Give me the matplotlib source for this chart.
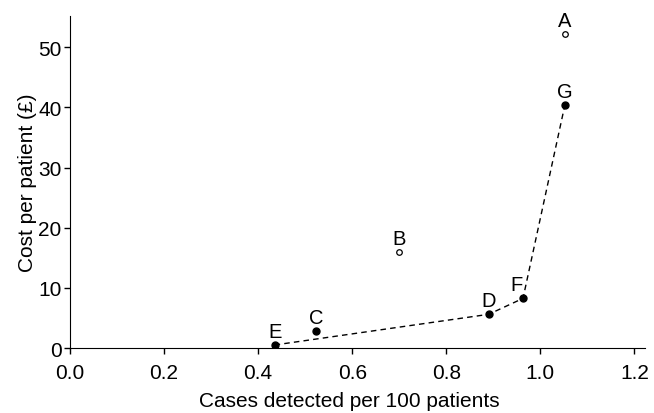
import matplotlib
matplotlib.use("Agg")
import matplotlib.pyplot as plt

plt.rcParams['font.family'] = ['Liberation Sans', 'DejaVu Sans']

# strategies on the frontier (filled) and dominated ones (open)
front_labels = ['E', 'C', 'D', 'F', 'G']
front_x = [0.435, 0.524, 0.890, 0.963, 1.052]
front_y = [0.5, 2.8, 5.6, 8.25, 40.4]

line_labels = ['E', 'D', 'F', 'G']
line_x = [0.435, 0.890, 0.963, 1.052]
line_y = [0.5, 5.6, 8.25, 40.4]

open_labels = ['B', 'A']
open_x = [0.700, 1.052]
open_y = [15.9, 52.2]

fig = plt.figure(figsize=(6.54, 4.14), dpi=100)
ax = fig.add_axes([0.107, 0.157, 0.879, 0.802])

ax.plot(line_x, line_y, color='black', linestyle='--', linewidth=1, dashes=(4, 3), zorder=2)
ax.plot(front_x, front_y, 'o', color='black', markersize=5, zorder=3)
ax.plot(open_x, open_y, 'o', markerfacecolor='white', markeredgecolor='black',
        markersize=4, markeredgewidth=0.9, zorder=3)

for lab, x, y in zip(front_labels + open_labels, front_x + open_x, front_y + open_y):
    if lab == 'F':
        off = (-4.5, 3.5)
    else:
        off = (0, 3)
    ax.annotate(lab, (x, y), xytext=off, textcoords='offset points',
                ha='center', va='bottom', fontsize=14.5)

ax.set_xlim(0, 1.222)
ax.set_ylim(0, 55.2)
ax.set_xticks([0.0, 0.2, 0.4, 0.6, 0.8, 1.0, 1.2])
ax.set_yticks([0, 10, 20, 30, 40, 50])
ax.spines['top'].set_visible(False)
ax.spines['right'].set_visible(False)
ax.tick_params(labelsize=15, length=4.5, width=1)
ax.tick_params(axis='x', pad=6)
ax.tick_params(axis='y', pad=1.5)
ax.set_xlabel('Cases detected per 100 patients', fontsize=15)
ax.set_ylabel('Cost per patient (£)', fontsize=15)
ax.xaxis.set_label_coords(0.486, -0.128)
ax.yaxis.set_label_coords(-0.058, 0.5)

fig.savefig('out.png', dpi=100)
